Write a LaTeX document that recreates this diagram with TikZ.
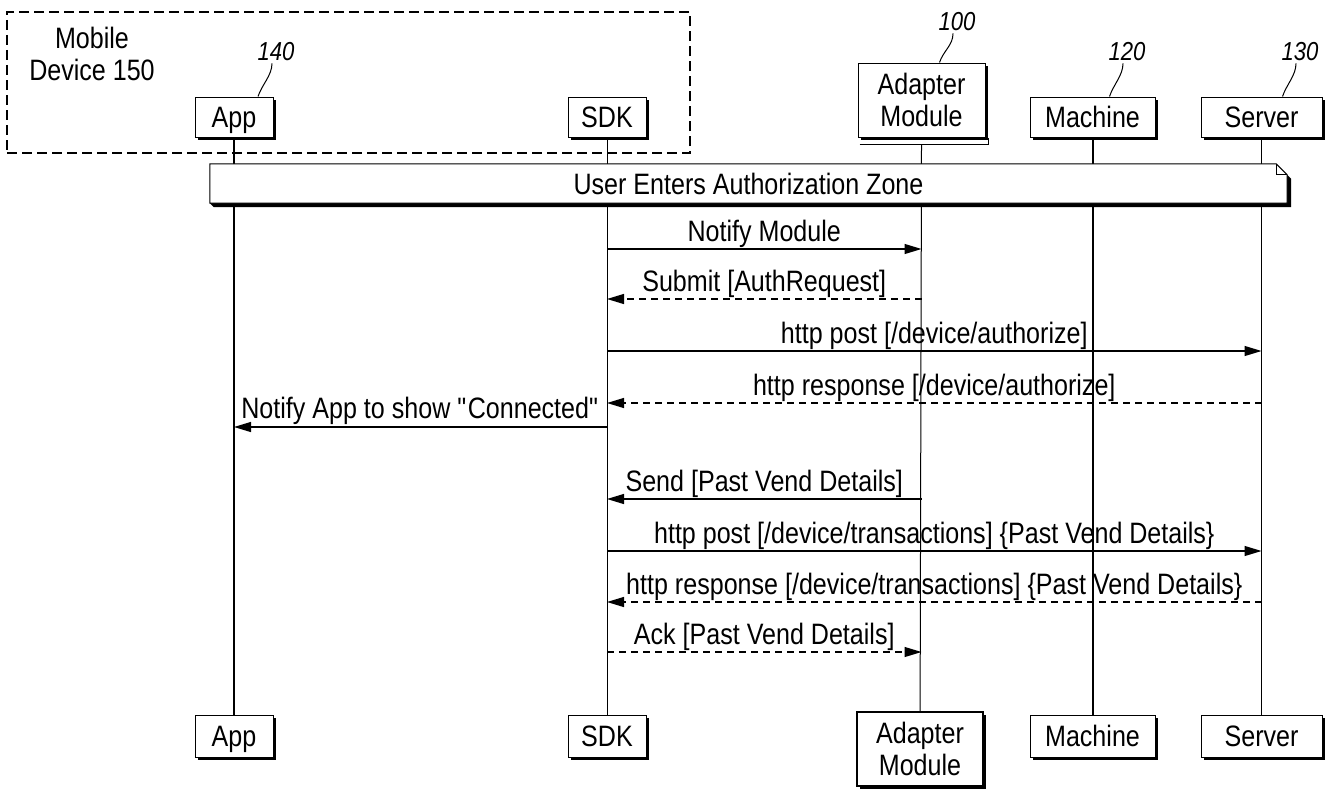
\documentclass[tikz,border=0pt]{standalone}
\usepackage{fontspec}
\setmainfont[FakeStretch=0.85]{Liberation Sans}
\usetikzlibrary{arrows.meta,shadows,backgrounds}
\pgfdeclarelayer{lines}
\pgfsetlayers{lines,background,main}
\begin{document}
\begin{tikzpicture}[x=1pt,y=-1pt,
  font=\fontsize{29.5}{32}\selectfont,
  box/.style={draw, fill=white, line width=1pt, inner sep=0pt, minimum height=40pt,
    text height=21pt, text depth=0pt,
    drop shadow={shadow xshift=3pt, shadow yshift=-3pt, fill=black, opacity=1}},
  bigbox/.style={box, line width=2.5pt, minimum height=74pt, align=center,
    text height=, text depth=, font=\fontsize{29.5}{32}\selectfont},
  num/.style={font=\fontsize{26}{28}\selectfont\itshape, inner sep=0pt},
  lead/.style={line width=1pt},
  life/.style={line width=1pt},
  lifeb/.style={line width=2pt},
  msg/.style={line width=1.2pt, -{Triangle[length=17pt,width=10pt]}},
  rmsg/.style={msg, dash pattern=on 7pt off 5pt},
  lbl/.style={inner sep=0pt, anchor=base, yshift=8pt}
]
\useasboundingbox (0,0) rectangle (1329,792);

% mobile device frame
\node[draw, line width=1.3pt, dash pattern=on 10pt off 5pt, minimum width=683pt, minimum height=141pt, inner sep=0pt] (mobile) at (348.5,82.5) {};
\node[align=center, inner sep=0pt] (mobtxt) at (92,54) {Mobile\\Device 150};

% top participants
\node[box, minimum width=78pt] (appT) at (234,117) {App};
\node[box, minimum width=78pt] (sdkT) at (607,117) {SDK};
\node[bigbox, line width=1pt, minimum width=127pt] (adT) at (921.5,100) {Adapter\\Module};
\draw[line width=1.5pt] ([xshift=2pt,yshift=-7pt]adT.south west) -- ([xshift=3pt,yshift=-7pt]adT.south east) -- ([xshift=3pt]adT.south east);
\node[box, minimum width=125pt] (machT) at (1092.5,117) {Machine};
\node[box, minimum width=121pt] (servT) at (1261.5,117) {Server};

% reference numerals
\node[num] (n140) at (276,52) {140};
\node[num] (n100) at (957,22) {100};
\node[num] (n120) at (1127,52) {120};
\node[num] (n130) at (1300,52) {130};
\draw[lead] ([xshift=-4pt,yshift=-2pt]n140.south) .. controls +(0,12) and +(4,-12) .. ([xshift=24pt]appT.north);
\draw[lead] ([xshift=-4pt,yshift=-2pt]n100.south) .. controls +(0,12) and +(4,-12) .. ([xshift=18pt]adT.north);
\draw[lead] ([xshift=-4pt,yshift=-2pt]n120.south) .. controls +(0,12) and +(4,-12) .. ([xshift=17pt]machT.north);
\draw[lead] ([xshift=-4pt,yshift=-2pt]n130.south) .. controls +(0,12) and +(4,-12) .. ([xshift=21pt]servT.north);

% bottom participants
\node[box, minimum width=78pt, minimum height=42pt] (appB) at (234,736) {App};
\node[box, minimum width=78pt, minimum height=42pt] (sdkB) at (607,736) {SDK};
\node[bigbox, minimum width=126pt] (adB) at (920,749) {Adapter\\Module};
\node[box, minimum width=125pt, minimum height=42pt] (machB) at (1092.5,736) {Machine};
\node[box, minimum width=121pt, minimum height=42pt] (servB) at (1261.5,736) {Server};

% lifelines
\begin{pgfonlayer}{lines}
\draw[lifeb] (appT) -- (appB);
\draw[life] (sdkT) -- (sdkB);
\draw[life] ([yshift=-7pt]adT.south) -- (adB);
\draw[lifeb] (machT) -- (machB);
\draw[life] (servT) -- (servB);
\end{pgfonlayer}

% note
\node[inner sep=0pt, minimum width=1077pt, minimum height=39pt, text height=21pt, text depth=0pt] (note) at (748.5,183.5) {User Enters Authorization Zone};
\begin{pgfonlayer}{background}
\fill[black] ([xshift=4pt,yshift=-4pt]note.south west) -- ([xshift=4pt,yshift=-4pt]note.south east) -- ([xshift=4pt,yshift=-15pt]note.north east) -- ([yshift=-11pt]note.north east) -- (note.south east) -- (note.south west) -- cycle;
\draw[line width=1pt, fill=white] (note.south west) -- (note.north west) -- ([xshift=-11pt]note.north east) -- ([yshift=-11pt]note.north east) -- (note.south east) -- cycle;
\draw[line width=1pt] ([xshift=-11pt]note.north east) -- ([xshift=-11pt,yshift=-11pt]note.north east) -- ([yshift=-11pt]note.north east);
\end{pgfonlayer}

% messages
\draw[msg]  (sdkT |- 0,249) -- (adT |- 0,249) node[lbl, midway] {Notify Module};
\draw[rmsg] (adT |- 0,299) -- (sdkT |- 0,299) node[lbl, midway] {Submit [AuthRequest]};
\draw[msg]  (sdkT |- 0,351) -- (servT |- 0,351) node[lbl, midway] {http post [/device/authorize]};
\draw[rmsg] (servT |- 0,403) -- (sdkT |- 0,403) node[lbl, midway] {http response [/device/authorize]};
\draw[msg]  (sdkT |- 0,427) -- (appT |- 0,427) node[lbl, midway, yshift=1pt] {Notify App to show \textquotedbl Connected\textquotedbl};
\draw[msg]  (adT |- 0,499) -- (sdkT |- 0,499) node[lbl, midway] {Send [Past Vend Details]};
\draw[msg]  (sdkT |- 0,551) -- (servT |- 0,551) node[lbl, midway] {http post [/device/transactions] \{Past Vend Details\}};
\draw[rmsg] (servT |- 0,602) -- (sdkT |- 0,602) node[lbl, midway] {http response [/device/transactions] \{Past Vend Details\}};
\draw[rmsg] (sdkT |- 0,652) -- (adT |- 0,652) node[lbl, midway] {Ack [Past Vend Details]};
\end{tikzpicture}
\end{document}
